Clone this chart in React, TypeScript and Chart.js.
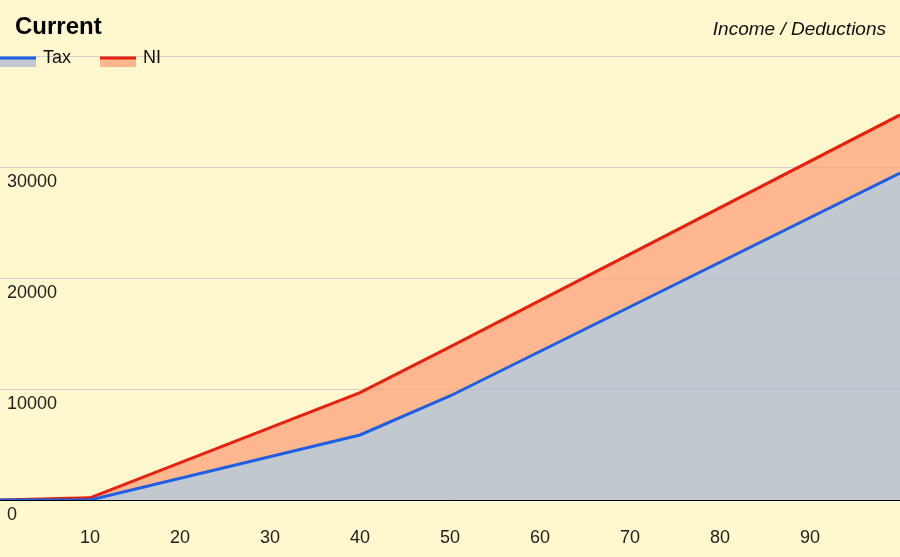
import React, { useEffect, useRef } from "react";
import { Chart, registerables } from "chart.js";

Chart.register(...registerables);

// income in thousands, amounts per year
const incomeK = [0, 10, 40, 50, 100];
const taxValues = [0, 0, 5860, 9370, 29460];
const niValues = [0, 200, 3810, 4420, 5230];

const xTicksShown = [10, 20, 30, 40, 50, 60, 70, 80, 90];
const yTicksShown = [0, 10000, 20000, 30000];

const titleText = "Current";
const subtitleText = "Income / Deductions";

const BG = "#fff7ce";
const TAX_LINE = "#1f5fe3";
const TAX_FILL = "rgba(172,184,207,0.75)";
const NI_LINE = "#e8200c";
const NI_FILL = "rgba(255,162,121,0.75)";
const FONT = "'Liberation Sans', Arial, sans-serif";

const headerPlugin = {
  id: "header",
  afterDraw(chart: Chart) {
    const ctx = chart.ctx;
    ctx.save();
    ctx.fillStyle = "#000";
    ctx.textBaseline = "middle";
    ctx.textAlign = "left";
    ctx.font = `bold 24px ${FONT}`;
    ctx.fillText(titleText, 15, 27);

    ctx.font = `italic 19px ${FONT}`;
    ctx.textAlign = "right";
    ctx.fillStyle = "#111";
    ctx.fillText(subtitleText, 886, 30);

    // legend: line sample on top, fill swatch below
    const items = chart.data.datasets.map((ds: any) => ({
      label: ds.label,
      line: ds.borderColor,
      fill: ds.backgroundColor,
    }));
    let x = 0;
    ctx.font = `18px ${FONT}`;
    ctx.textAlign = "left";
    items.forEach((it) => {
      ctx.fillStyle = it.fill;
      ctx.fillRect(x, 58, 36, 9);
      ctx.strokeStyle = it.line;
      ctx.lineWidth = 3;
      ctx.beginPath();
      ctx.moveTo(x, 58);
      ctx.lineTo(x + 36, 58);
      ctx.stroke();
      ctx.fillStyle = "#111";
      ctx.fillText(it.label, x + 43, 58);
      x += 100;
    });
    ctx.restore();
  },
};

const App: React.FC = () => {
  const canvasRef = useRef<HTMLCanvasElement>(null);
  const chartInstance = useRef<Chart | null>(null);

  useEffect(() => {
    document.body.style.margin = "0";
    document.body.style.background = BG;
    if (!canvasRef.current) return;
    if (chartInstance.current) chartInstance.current.destroy();

    chartInstance.current = new Chart(canvasRef.current, {
      type: "line",
      data: {
        datasets: [
          {
            label: "Tax",
            data: incomeK.map((x, i) => ({ x, y: taxValues[i] })),
            borderColor: TAX_LINE,
            backgroundColor: TAX_FILL,
            borderWidth: 3,
            fill: "origin",
            pointRadius: 0,
            tension: 0,
          },
          {
            label: "NI",
            data: incomeK.map((x, i) => ({ x, y: niValues[i] })),
            borderColor: NI_LINE,
            backgroundColor: NI_FILL,
            borderWidth: 3,
            fill: "-1",
            pointRadius: 0,
            tension: 0,
          },
        ],
      },
      options: {
        animation: false,
        responsive: true,
        maintainAspectRatio: false,
        layout: { padding: { top: 56, bottom: 0, left: 0, right: 0 } },
        plugins: {
          legend: { display: false },
          title: { display: false },
          tooltip: { enabled: false },
        },
        scales: {
          x: {
            type: "linear",
            min: 0,
            max: 100,
            z: 1,
            grid: { display: false, drawTicks: false },
            border: { display: true, color: "#000", width: 1 },
            ticks: {
              stepSize: 10,
              autoSkip: false,
              maxRotation: 0,
              padding: 27,
              color: "#222",
              font: { family: FONT, size: 18 },
              callback: (v: any) => (xTicksShown.includes(Number(v)) ? String(v) : ""),
            },
            afterFit: (scale: any) => {
              scale.height = 57;
              scale.paddingLeft = 0;
              scale.paddingRight = 0;
            },
          },
          y: {
            stacked: true,
            min: 0,
            max: 40000,
            grid: { color: "#cfcfcf", lineWidth: 1, drawTicks: false },
            border: { display: false },
            ticks: {
              stepSize: 10000,
              mirror: true,
              padding: 7,
              labelOffset: 15,
              color: "#222",
              font: { family: FONT, size: 18 },
              callback: (v: any) => (yTicksShown.includes(Number(v)) ? String(v) : ""),
            },
            afterFit: (scale: any) => {
              scale.width = 0;
            },
          },
        },
      },
      plugins: [headerPlugin],
    });

    return () => {
      if (chartInstance.current) {
        chartInstance.current.destroy();
        chartInstance.current = null;
      }
    };
  }, []);

  return (
    <div
      style={{
        position: "absolute",
        left: 0,
        top: 0,
        width: "900px",
        height: "557px",
        background: BG,
      }}
    >
      <canvas ref={canvasRef} />
    </div>
  );
};

export default App;
